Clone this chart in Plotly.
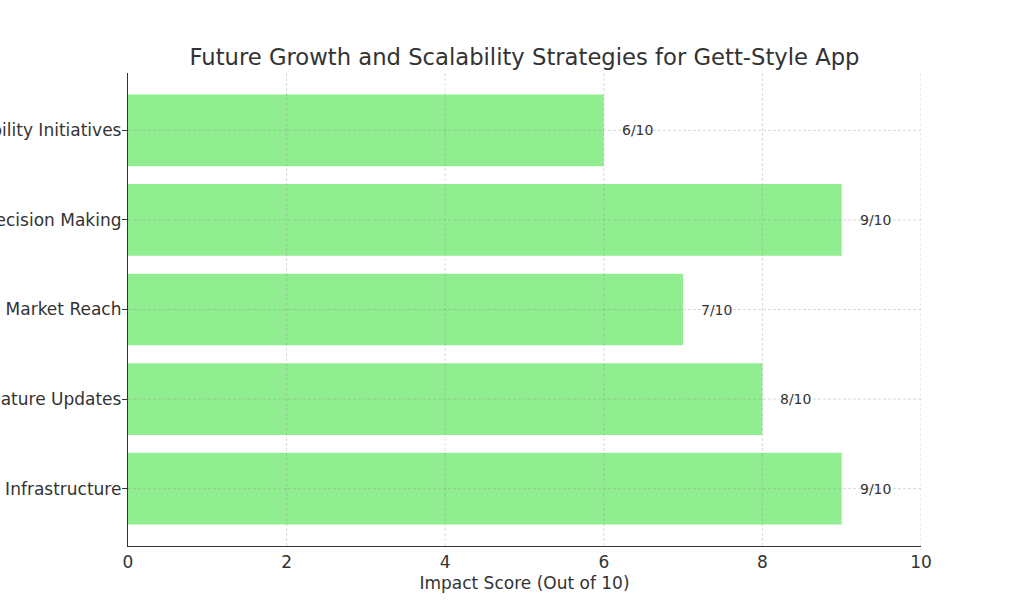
import plotly.graph_objects as go

# Data (bottom to top, as drawn)
categories = [
    "Scalable Technical Infrastructure",
    "Regular Feature Updates",
    "Global Market Reach",
    "Data-Driven Decision Making",
    "Sustainability Initiatives",
]
scores = [9, 8, 7, 9, 6]
x_ticks = [0, 2, 4, 6, 8, 10]

FONT = "DejaVu Sans"
TXT = "#333333"
GRID = "rgba(140,140,140,0.32)"

fig = go.Figure()
fig.add_trace(go.Bar(
    y=categories, x=scores, orientation="h",
    marker=dict(color="#90EE90", line=dict(width=0)),
    width=0.8, hoverinfo="skip",
))

# value labels
for c, s in zip(categories, scores):
    fig.add_annotation(x=s + 0.2, y=c, text=f"{s}/10", showarrow=False,
                       xanchor="left", yanchor="middle",
                       font=dict(family=FONT, size=14, color=TXT))

# grid lines drawn above bars (like matplotlib's alpha grid)
shapes = []
for t in x_ticks[1:]:
    shapes.append(dict(type="line", xref="x", yref="paper", x0=t, x1=t, y0=0, y1=1,
                       line=dict(color=GRID, width=1, dash="3px,2px"), layer="above"))
for c in categories:
    shapes.append(dict(type="line", xref="paper", yref="y", x0=0, x1=1, y0=c, y1=c,
                       line=dict(color=GRID, width=1, dash="3px,2px"), layer="above"))
fig.update_layout(shapes=shapes)

fig.update_layout(
    width=1024, height=614,
    margin=dict(l=128, r=103, t=73, b=68, autoexpand=False),
    paper_bgcolor="white", plot_bgcolor="white",
    showlegend=False,
    font=dict(family=FONT, color=TXT),
    title=dict(text="Future Growth and Scalability Strategies for Gett-Style App",
               x=(128 + 921) / 2 / 1024, xanchor="center", y=1 - 57 / 614, yanchor="middle",
               font=dict(family=FONT, size=22.7, color=TXT)),
    xaxis=dict(range=[0, 10], tickvals=x_ticks, ticks="",
               showline=True, linecolor=TXT, linewidth=1.3,
               showgrid=False, zeroline=False, automargin=False,
               tickfont=dict(family=FONT, size=17, color=TXT),
               title=dict(text="Impact Score (Out of 10)", standoff=6,
                          font=dict(family=FONT, size=17, color=TXT))),
    yaxis=dict(range=[-0.64, 4.64], ticks="outside", ticklen=5, tickwidth=1.2,
               tickcolor=TXT, showline=True, linecolor=TXT, linewidth=1.3,
               showgrid=False, zeroline=False, automargin=False,
               ticklabelstandoff=-3,
               tickfont=dict(family=FONT, size=17, color=TXT)),
)

fig.write_html("out.html")
